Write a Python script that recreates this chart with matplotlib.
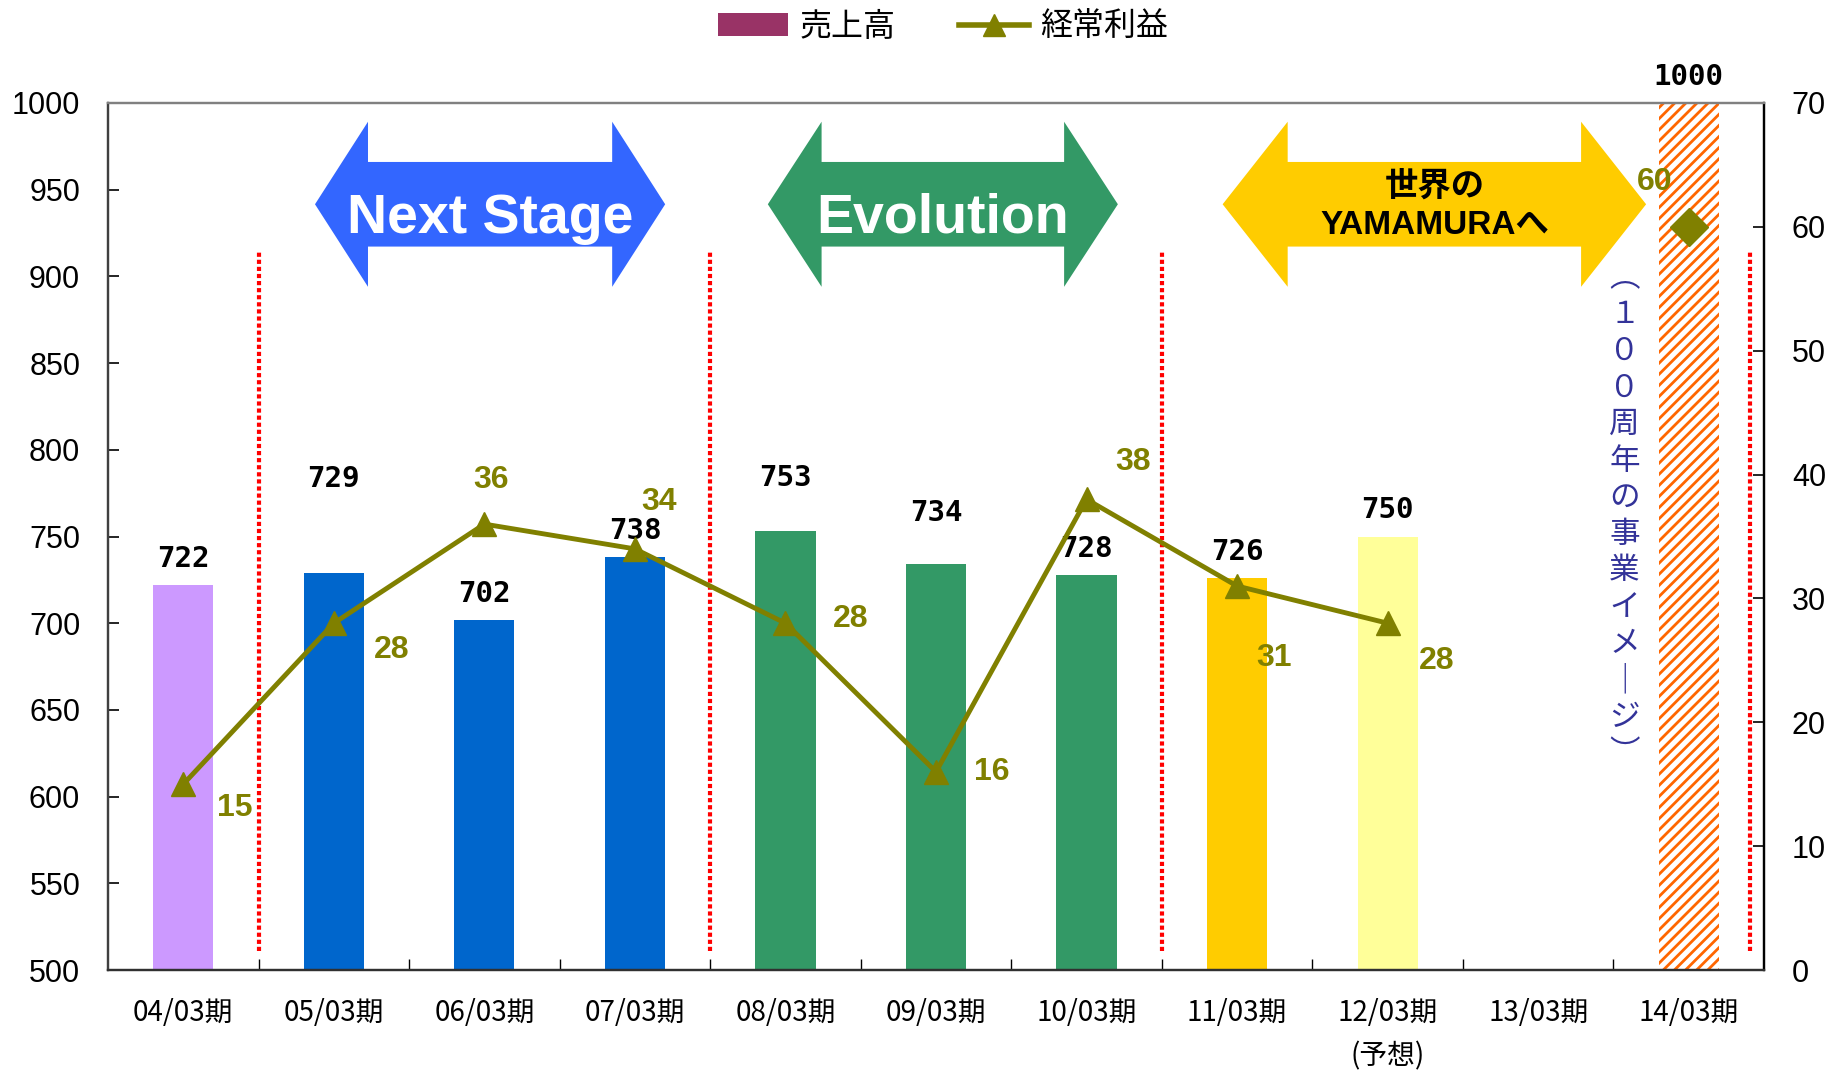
import numpy as np
import matplotlib
matplotlib.use('Agg')
import matplotlib.pyplot as plt
from matplotlib.patches import Polygon, Patch
from matplotlib.lines import Line2D

plt.rcParams['font.family'] = ['Liberation Sans', 'Noto Sans CJK JP', 'DejaVu Sans']
plt.rcParams['hatch.linewidth'] = 2.0

# data
periods = ['04/03期', '05/03期', '06/03期', '07/03期', '08/03期', '09/03期',
           '10/03期', '11/03期', '12/03期\n(予想)', '13/03期', '14/03期']
sales = [722, 729, 702, 738, 753, 734, 728, 726, 750, np.nan, 1000]
profit = [15, 28, 36, 34, 28, 16, 38, 31, 28]
profit_target = 60
bar_colors = ['#CC99FF', '#0066CC', '#0066CC', '#0066CC', '#339966', '#339966',
              '#339966', '#FFCC00', '#FFFF99', 'white', 'white']
stage_names = ['Next Stage', 'Evolution', '世界の\nYAMAMURAへ']
note = '（１００周年の事業イメージ）'

OLIVE = '#808000'

# label placement (pixels from the mark)
sales_dy = [26, 94, 26, 26, 53, 51, 26, 26, 26, 0, 26]
profit_off = [(51, -24), (58, -27), (7, 44), (24, 47), (65, 4), (56, 0),
              (47, 37), (37, -72), (49, -38)]

fig = plt.figure(figsize=(18.29, 10.70), dpi=100)
ax = fig.add_axes([108 / 1829, 1 - 970 / 1070, 1656 / 1829, 867 / 1070])
ax2 = ax.twinx()

x = np.arange(len(periods))
bars = ax.bar(x, sales, width=0.4, color=bar_colors, linewidth=0, zorder=2)
bars[-1].set_hatch('///')
bars[-1].set_edgecolor('#FF6600')

ax.set_xlim(-0.5, 10.5)
ax.set_ylim(500, 1000)
ax.set_yticks(np.arange(500, 1001, 50))
ax2.set_ylim(0, 70)
ax2.set_yticks(np.arange(0, 71, 10))

for i, v in enumerate(sales):
    if np.isnan(v):
        continue
    ax.annotate(f'{v:.0f}', (i, v), xytext=(0, sales_dy[i]), textcoords='offset pixels',
                ha='center', va='center', fontsize=21, fontweight='bold',
                family='DejaVu Sans Mono', annotation_clip=False, zorder=6)

# separators between the stages
for bx in [0.5, 3.5, 6.5, 10.41]:
    ax.plot([bx, bx], [511, 914], color='red', lw=3, dashes=(1, 0.7), zorder=3)

# double block arrows
def block_arrow(x0, x1, head, color):
    yc, hh, hs = 941.6, 47.6, 24.4
    pts = [(x0, yc), (x0 + head, yc + hh), (x0 + head, yc + hs), (x1 - head, yc + hs),
           (x1 - head, yc + hh), (x1, yc), (x1 - head, yc - hh), (x1 - head, yc - hs),
           (x0 + head, yc - hs), (x0 + head, yc - hh)]
    ax.add_patch(Polygon(pts, closed=True, fc=color, ec='none', zorder=3))
    return (x0 + x1) / 2, yc

cx, cy = block_arrow(0.875, 3.201, 0.352, '#3366FF')
ax.text(cx, cy - 5, stage_names[0], color='white', fontsize=40, fontweight='bold',
        ha='center', va='center_baseline', zorder=4)
cx, cy = block_arrow(3.883, 6.208, 0.357, '#339966')
ax.text(cx, cy - 5, stage_names[1], color='white', fontsize=40, fontweight='bold',
        ha='center', va='center_baseline', zorder=4)
cx, cy = block_arrow(6.904, 9.717, 0.432, '#FFCC00')
ax.text(cx, cy - 1, stage_names[2], color='black', fontsize=24, fontweight='bold',
        ha='center', va='center', linespacing=1.3, zorder=4,
        family=['Liberation Sans', 'Noto Sans CJK JP'])

# vertical note
vert = note.replace('（', '︵').replace('）', '︶').replace('ー', '｜')
for k, ch in enumerate(vert):
    ax.text(9.573, 899 - k * 21.1, ch, color='#333399', fontsize=22,
            family=['Noto Sans CJK JP', 'DejaVu Sans'], ha='center', va='center', zorder=4)

# profit line
ax2.plot(x[:len(profit)], profit, color=OLIVE, lw=3.5, marker='^', ms=17, zorder=5)
ax2.plot([10], [profit_target], linestyle='none', marker='D', ms=19, color=OLIVE, zorder=5)
for i, v in enumerate(profit):
    ax2.annotate(str(v), (i, v), xytext=profit_off[i], textcoords='offset pixels',
                 ha='center', va='center', fontsize=23, fontweight='bold', color=OLIVE)
ax2.annotate(str(profit_target), (10, profit_target), xytext=(-34, 45), textcoords='offset pixels',
             ha='center', va='center', fontsize=23, fontweight='bold', color=OLIVE)

# axes styling
ax.set_xticks(x)
ax.set_xticklabels(periods, family=['Noto Sans CJK JP'], fontsize=20)
ax.get_xticklabels()[8].set_linespacing(1.6)
ax.set_xticks(np.arange(0.5, 10.5, 1), minor=True)
ax.tick_params(axis='x', which='major', length=0, pad=20)
ax.tick_params(axis='x', which='minor', direction='in', length=8, width=1)
ax.tick_params(axis='y', direction='in', length=8, width=1.2, labelsize=22, pad=20)
ax2.tick_params(axis='y', direction='in', length=8, width=1.2, labelsize=22, pad=20)

for a in (ax, ax2):
    a.spines['top'].set_color('#808080')
    a.spines['left'].set_color('#404040')
    a.spines['bottom'].set_color('#303030')
    a.spines['right'].set_color('black')
    for s in a.spines.values():
        s.set_linewidth(1.6)

handles = [Patch(fc='#993366'),
           Line2D([], [], color=OLIVE, lw=4, marker='^', ms=16)]
fig.legend(handles, ['売上高', '経常利益'], loc='center', bbox_to_anchor=(0.5156, 0.975),
           ncol=2, frameon=False, handlelength=2.2, handletextpad=0.35,
           columnspacing=2.0, prop={'family': ['Noto Sans CJK JP'], 'size': 23})

fig.savefig('out.png', dpi=100)
